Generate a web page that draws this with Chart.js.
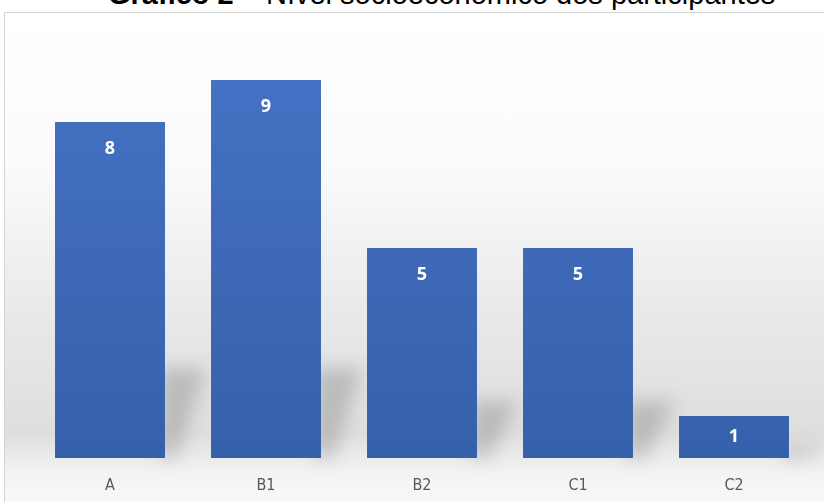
<!DOCTYPE html>
<html>
<head>
<meta charset="utf-8">
<script src="https://cdn.jsdelivr.net/npm/chart.js@4.4.0/dist/chart.umd.min.js"></script>
<style>
  html, body { margin: 0; padding: 0; background: #fff; overflow: hidden; }
  body { width: 824px; height: 502px; position: relative; }
  #title {
    position: absolute; left: 108px; top: -20px;
    font-family: "Liberation Sans", Arial, sans-serif;
    font-size: 29px; color: #000; white-space: nowrap; line-height: 29px;
  }
  #frame {
    position: absolute; left: 4px; top: 12px; width: 830px; height: 500px;
    border: 1px solid #d4d4d4;
    background: linear-gradient(to bottom, #ffffff 0%, #fbfbfb 30%, #e8e8e8 62%, #dedede 84%, #f3f3f3 92%, #fafafa 100%);
  }
  #wrap { position: absolute; left: 0; top: 0; width: 824px; height: 502px; }
</style>
</head>
<body>
<div id="frame"></div>
<div id="title"><b>Gráfico 2</b> – Nível socioeconômico dos participantes</div>
<div id="wrap"><canvas id="chart"></canvas></div>
<script>
// Data
const categories = ["A", "B1", "B2", "C1", "C2"];
const participants = [8, 9, 5, 5, 1];

// soft shadows behind bars + value labels
const barExtras = {
  id: "barExtras",
  beforeDatasetsDraw(chart) {
    const c = chart.ctx;
    const meta = chart.getDatasetMeta(0);
    c.save();
    c.filter = "blur(9px)";
    meta.data.forEach((bar) => {
      const w = bar.width;
      const right = bar.x + w / 2;
      const h = bar.base - bar.y;
      const sh = Math.min(h * 0.27, 90);
      c.fillStyle = "rgba(130,130,130,0.4)";
      c.beginPath();
      c.moveTo(right - 6, bar.base);
      c.lineTo(right - 6, bar.base - sh);
      c.lineTo(right + w * 0.38, bar.base - sh);
      c.lineTo(right + w * 0.1, bar.base);
      c.closePath();
      c.fill();
    });
    c.restore();
  },
  afterDatasetsDraw(chart) {
    const c = chart.ctx;
    const meta = chart.getDatasetMeta(0);
    c.save();
    c.fillStyle = "#ffffff";
    c.font = "bold 18px 'Open Sans', sans-serif";
    c.textAlign = "center";
    c.textBaseline = "middle";
    meta.data.forEach((bar, i) => {
      const h = bar.base - bar.y;
      const off = Math.min(27, h / 2);
      c.fillText(participants[i], bar.x, bar.y + off);
    });
    c.restore();
  }
};

const ctx = document.getElementById("chart").getContext("2d");
const barGrad = ctx.createLinearGradient(0, 38, 0, 458);
barGrad.addColorStop(0, "#4673c6");
barGrad.addColorStop(1, "#3760ab");

new Chart(ctx, {
  type: "bar",
  data: {
    labels: categories,
    datasets: [
      {
        data: participants,
        backgroundColor: barGrad,
        borderWidth: 0,
        categoryPercentage: 1,
        barPercentage: 0.705,
      },
    ],
  },
  options: {
    responsive: true,
    maintainAspectRatio: false,
    animation: false,
    layout: { padding: { left: 32, right: 12, top: 38, bottom: 0 } },
    plugins: {
      legend: { display: false },
      tooltip: { enabled: false },
    },
    scales: {
      y: {
        display: false,
        min: 0,
        max: 10,
      },
      x: {
        grid: { display: false },
        border: { display: false },
        afterFit: (scale) => { scale.height = 44; },
        ticks: {
          color: "#595959",
          font: { family: "'DejaVu Sans Condensed', 'Liberation Sans Narrow', sans-serif", size: 16 },
          padding: 10,
        },
      },
    },
  },
  plugins: [barExtras],
});
</script>
</body>
</html>
